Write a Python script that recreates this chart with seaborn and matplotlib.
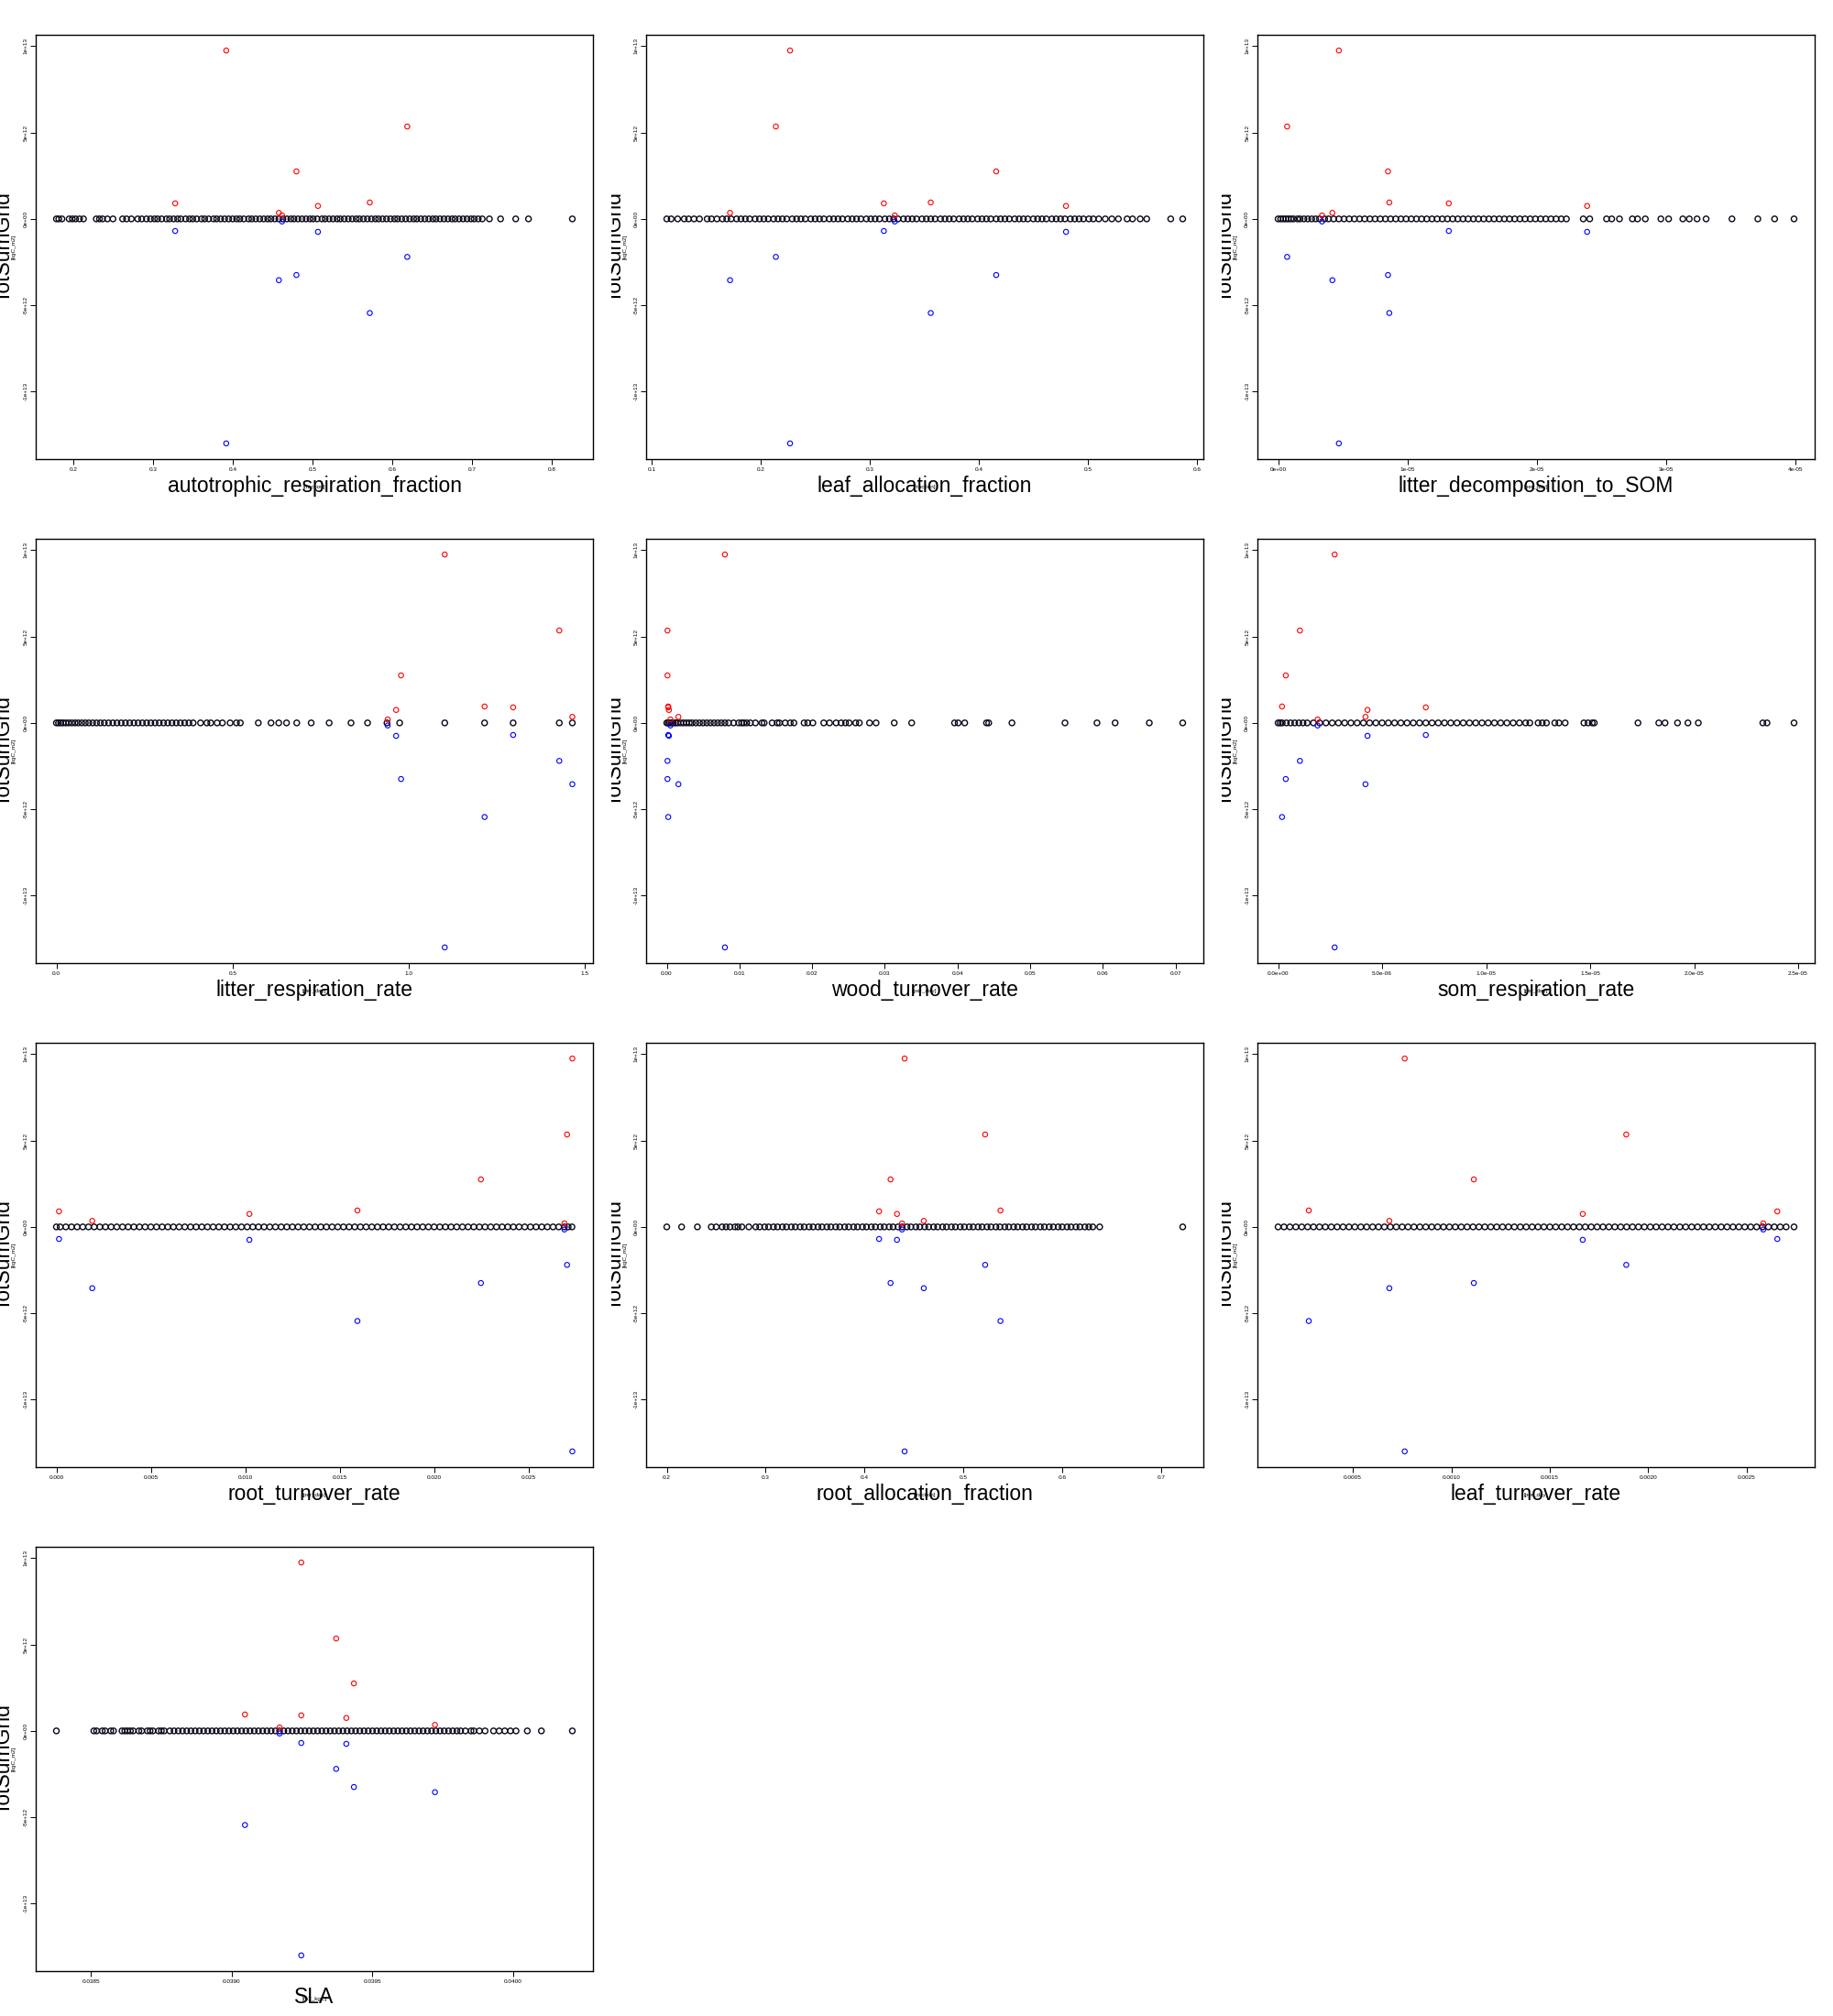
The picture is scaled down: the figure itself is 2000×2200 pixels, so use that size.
import matplotlib
matplotlib.use("Agg")
import matplotlib.pyplot as plt
import seaborn as sns
from matplotlib.transforms import Bbox, TransformedBbox
from matplotlib.ticker import FixedLocator, FixedFormatter

sns.set_theme(style="white")
plt.rcParams['font.family'] = ['Liberation Sans', 'DejaVu Sans']

# ---------------- data ----------------
parameter_names = ["autotrophic_respiration_fraction", "leaf_allocation_fraction",
                   "litter_decomposition_to_SOM", "litter_respiration_rate",
                   "wood_turnover_rate", "som_respiration_rate",
                   "root_turnover_rate", "root_allocation_fraction",
                   "leaf_turnover_rate", "SLA"]
parameter_units = ["[fraction]", "[fraction]", "[per_day]", "[per_day]", "[per_day]",
                   "[per_day]", "[per_day]", "[fraction]", "[per_day]", "[m2_kgC]"]
y_name = "TotSumGrid"
y_unit = "[kgC_m2]"

# outlier runs (positive = red, negative = blue), same runs in each panel
red_values = [9.75e12, 5.35e12, 2.75e12, 0.90e12, 0.95e12, 0.35e12, 0.75e12, 0.20e12]
blue_values = [-13.0e12, -2.2e12, -3.25e12, -0.7e12, -5.45e12, -3.55e12, -0.75e12, -0.15e12]

y_ticks = [-1e13, -5e12, 0, 5e12, 1e13]
y_tick_labels = ["-1e+13", "-5e+12", "0e+00", "5e+12", "1e+13"]

# panel 1: autotrophic_respiration_fraction
ar_frac_x = [0.179, 0.182, 0.186, 0.195, 0.199, 0.203, 0.208, 0.213, 0.229, 0.233, 0.237, 0.243,
             0.250, 0.262, 0.267, 0.273, 0.281, 0.286,
             0.292, 0.297, 0.302, 0.306, 0.311, 0.317, 0.321, 0.326, 0.331, 0.335, 0.341, 0.346,
             0.350, 0.355, 0.361, 0.365, 0.370, 0.376, 0.380, 0.385, 0.390, 0.395, 0.400, 0.405,
             0.409, 0.414, 0.420, 0.424, 0.429, 0.434, 0.439, 0.444, 0.448, 0.453, 0.458, 0.463,
             0.468, 0.473, 0.477, 0.482, 0.487, 0.492, 0.497, 0.501, 0.506, 0.512, 0.516, 0.521,
             0.526, 0.531, 0.535, 0.540, 0.545, 0.550, 0.555, 0.559, 0.564, 0.569, 0.574, 0.579,
             0.583, 0.588, 0.593, 0.598, 0.603, 0.607, 0.612, 0.617, 0.622, 0.627, 0.631, 0.636,
             0.641, 0.646, 0.651, 0.655, 0.660, 0.665, 0.670, 0.675, 0.679, 0.684, 0.689, 0.694,
             0.699, 0.703, 0.708, 0.713, 0.722, 0.736, 0.755, 0.771, 0.826]
ar_frac_special = [0.392, 0.619, 0.480, 0.328, 0.572, 0.458, 0.507, 0.462]
ar_frac_ticks = [0.2, 0.3, 0.4, 0.5, 0.6, 0.7, 0.8]
ar_frac_labels = ["0.2", "0.3", "0.4", "0.5", "0.6", "0.7", "0.8"]

# panel 2: leaf_allocation_fraction
leaf_alloc_x = [0.114, 0.118, 0.124, 0.130, 0.134, 0.139, 0.144, 0.151, 0.155, 0.160,
                0.165, 0.169, 0.173, 0.178, 0.182, 0.186, 0.190, 0.195, 0.199, 0.203, 0.207,
                0.212, 0.216, 0.220, 0.224, 0.229, 0.233, 0.237, 0.241, 0.246, 0.250, 0.254,
                0.258, 0.263, 0.267, 0.271, 0.275, 0.280, 0.284, 0.288, 0.292, 0.297, 0.301,
                0.305, 0.309, 0.314, 0.318, 0.322, 0.326, 0.331, 0.335, 0.339, 0.343, 0.348,
                0.352, 0.356, 0.360, 0.365, 0.369, 0.373, 0.377, 0.382, 0.386, 0.390, 0.394,
                0.399, 0.403, 0.407, 0.411, 0.416, 0.420, 0.424, 0.428, 0.433, 0.437, 0.441,
                0.445, 0.450, 0.454, 0.458, 0.462, 0.467, 0.471, 0.475, 0.479, 0.484, 0.488,
                0.492, 0.496, 0.501, 0.505,
                0.510, 0.516, 0.522, 0.528, 0.536, 0.541, 0.548, 0.554, 0.576, 0.587]
leaf_alloc_special = [0.227, 0.214, 0.416, 0.313, 0.356, 0.172, 0.480, 0.323]
leaf_alloc_ticks = [0.1, 0.2, 0.3, 0.4, 0.5, 0.6]
leaf_alloc_labels = ["0.1", "0.2", "0.3", "0.4", "0.5", "0.6"]

# panel 3: litter_decomposition_to_SOM
litter_decomp_x = [0.00e-5, 0.02e-5, 0.04e-5, 0.06e-5, 0.08e-5, 0.10e-5, 0.12e-5, 0.15e-5, 0.17e-5,
                   0.20e-5, 0.23e-5, 0.26e-5, 0.29e-5, 0.32e-5, 0.36e-5, 0.39e-5, 0.43e-5, 0.47e-5,
                   0.51e-5, 0.55e-5, 0.59e-5, 0.63e-5, 0.67e-5, 0.71e-5, 0.75e-5, 0.79e-5, 0.83e-5,
                   0.87e-5, 0.91e-5, 0.95e-5, 0.99e-5, 1.03e-5, 1.07e-5, 1.11e-5, 1.15e-5, 1.19e-5,
                   1.23e-5, 1.27e-5, 1.31e-5, 1.35e-5, 1.39e-5, 1.43e-5, 1.47e-5, 1.51e-5, 1.55e-5,
                   1.59e-5, 1.63e-5, 1.67e-5, 1.71e-5, 1.75e-5, 1.79e-5, 1.83e-5, 1.87e-5, 1.91e-5,
                   1.95e-5, 1.99e-5, 2.03e-5, 2.07e-5, 2.11e-5, 2.15e-5, 2.19e-5, 2.23e-5,
                   2.36e-5, 2.41e-5, 2.54e-5, 2.58e-5, 2.64e-5, 2.74e-5, 2.78e-5, 2.84e-5, 2.96e-5,
                   3.02e-5, 3.13e-5, 3.18e-5, 3.24e-5, 3.31e-5, 3.51e-5, 3.71e-5, 3.84e-5, 3.99e-5]
litter_decomp_special = [4.7e-6, 0.7e-6, 8.5e-6, 13.2e-6, 8.6e-6, 4.2e-6, 23.9e-6, 3.4e-6]
litter_decomp_ticks = [0, 1e-5, 2e-5, 3e-5, 4e-5]
litter_decomp_labels = ["0e+00", "1e-05", "2e-05", "3e-05", "4e-05"]

# panel 4: litter_respiration_rate
litter_resp_x = [0.000, 0.006, 0.012, 0.019, 0.027, 0.035, 0.044, 0.053, 0.062, 0.072, 0.082,
                 0.092, 0.103, 0.114, 0.125, 0.136, 0.148, 0.160, 0.172, 0.184, 0.196, 0.208,
                 0.220, 0.232, 0.244, 0.256, 0.268, 0.280, 0.292, 0.304, 0.316, 0.328, 0.340,
                 0.352, 0.364, 0.376, 0.388,
                 0.409, 0.427, 0.438, 0.456, 0.471, 0.493, 0.511, 0.522, 0.573, 0.609, 0.631,
                 0.653, 0.682, 0.723, 0.774, 0.836, 0.883, 0.938, 0.974, 1.102, 1.215, 1.296,
                 1.427, 1.464]
litter_resp_special = [1.102, 1.427, 0.978, 1.296, 1.215, 1.464, 0.964, 0.940]
litter_resp_ticks = [0.0, 0.5, 1.0, 1.5]
litter_resp_labels = ["0.0", "0.5", "1.0", "1.5"]

# panel 5: wood_turnover_rate
wood_turn_x = [0.0000, 0.0002, 0.0004, 0.0006, 0.0009, 0.0012, 0.0015, 0.0019, 0.0023, 0.0027,
               0.0031, 0.0035, 0.0040, 0.0045, 0.0050, 0.0055, 0.0060, 0.0065, 0.0070, 0.0075,
               0.0080, 0.0085,
               0.0092, 0.0099, 0.0103, 0.0106, 0.0110, 0.0115, 0.0122, 0.0131, 0.0134, 0.0145,
               0.0152, 0.0155, 0.0163, 0.0170, 0.0175, 0.0189, 0.0194, 0.0201, 0.0216, 0.0224,
               0.0233, 0.0240, 0.0246, 0.0251, 0.0260, 0.0265, 0.0279, 0.0288, 0.0313, 0.0337,
               0.0396, 0.0401, 0.0410, 0.0440, 0.0443, 0.0475, 0.0548, 0.0592, 0.0617, 0.0664,
               0.0710]
wood_turn_special = [0.0080, 0.0001, 0.0001, 0.0002, 0.0002, 0.0016, 0.0003, 0.0005]
wood_turn_ticks = [0.00, 0.01, 0.02, 0.03, 0.04, 0.05, 0.06, 0.07]
wood_turn_labels = ["0.00", "0.01", "0.02", "0.03", "0.04", "0.05", "0.06", "0.07"]

# panel 6: som_respiration_rate
som_resp_x = [0.00e-5, 0.01e-5, 0.02e-5, 0.04e-5, 0.06e-5, 0.08e-5, 0.10e-5, 0.12e-5, 0.14e-5,
              0.17e-5, 0.20e-5, 0.23e-5, 0.26e-5, 0.29e-5, 0.32e-5, 0.35e-5, 0.38e-5, 0.41e-5,
              0.44e-5, 0.47e-5, 0.50e-5, 0.53e-5, 0.56e-5, 0.59e-5, 0.62e-5, 0.65e-5, 0.68e-5,
              0.71e-5, 0.74e-5, 0.77e-5, 0.80e-5, 0.83e-5, 0.86e-5, 0.89e-5, 0.92e-5, 0.95e-5,
              0.98e-5, 1.01e-5, 1.04e-5, 1.07e-5, 1.10e-5, 1.13e-5, 1.16e-5, 1.19e-5, 1.21e-5,
              1.25e-5, 1.27e-5, 1.29e-5, 1.33e-5, 1.35e-5, 1.38e-5, 1.47e-5, 1.49e-5, 1.51e-5,
              1.52e-5, 1.73e-5, 1.83e-5, 1.86e-5, 1.92e-5, 1.97e-5, 2.02e-5, 2.33e-5, 2.35e-5,
              2.48e-5]
som_resp_special = [2.72e-6, 1.05e-6, 0.37e-6, 7.1e-6, 0.19e-6, 4.2e-6, 4.3e-6, 1.9e-6]
som_resp_ticks = [0, 5e-6, 1e-5, 1.5e-5, 2e-5, 2.5e-5]
som_resp_labels = ["0.0e+00", "5.0e-06", "1.0e-05", "1.5e-05", "2.0e-05", "2.5e-05"]

# panel 7: root_turnover_rate
root_turn_x = [0.0000, 0.0002, 0.0005, 0.0008, 0.0011, 0.0014, 0.0017, 0.0020, 0.0023, 0.0026,
               0.0029, 0.0032, 0.0035, 0.0038, 0.0041, 0.0044, 0.0047, 0.0050, 0.0053, 0.0056,
               0.0059, 0.0062, 0.0065, 0.0068, 0.0071, 0.0074, 0.0077, 0.0080, 0.0083, 0.0086,
               0.0089, 0.0092, 0.0095, 0.0098, 0.0101, 0.0104, 0.0107, 0.0110, 0.0113, 0.0116,
               0.0119, 0.0122, 0.0125, 0.0128, 0.0131, 0.0134, 0.0137, 0.0140, 0.0143, 0.0146,
               0.0149, 0.0152, 0.0155, 0.0158, 0.0161, 0.0164, 0.0167, 0.0170, 0.0173, 0.0176,
               0.0179, 0.0182, 0.0185, 0.0188, 0.0191, 0.0194, 0.0197, 0.0200, 0.0203, 0.0206,
               0.0209, 0.0212, 0.0215, 0.0218, 0.0221, 0.0224, 0.0227, 0.0230, 0.0233, 0.0236,
               0.0239, 0.0242, 0.0245, 0.0248, 0.0251, 0.0254, 0.0257, 0.0260, 0.0263, 0.0266,
               0.0269, 0.0271, 0.0273]
root_turn_special = [0.02732, 0.02704, 0.02248, 0.00014, 0.01594, 0.0019, 0.01022, 0.0269]
root_turn_ticks = [0.000, 0.005, 0.010, 0.015, 0.020, 0.025]
root_turn_labels = ["0.000", "0.005", "0.010", "0.015", "0.020", "0.025"]

# panel 8: root_allocation_fraction
root_alloc_x = [0.200, 0.215, 0.231, 0.245, 0.250, 0.256, 0.260, 0.264, 0.269, 0.272, 0.276, 0.283,
                0.290, 0.294, 0.299, 0.303, 0.308, 0.312, 0.317, 0.321, 0.326, 0.330, 0.335,
                0.339, 0.344, 0.348, 0.353, 0.357, 0.362, 0.366, 0.371, 0.375, 0.380, 0.384,
                0.389, 0.393, 0.398, 0.402, 0.407, 0.411, 0.416, 0.420, 0.425, 0.429, 0.434,
                0.438, 0.443, 0.447, 0.452, 0.456, 0.461, 0.465, 0.470, 0.474, 0.479, 0.483,
                0.488, 0.492, 0.497, 0.501, 0.506, 0.510, 0.515, 0.519, 0.524, 0.528, 0.533,
                0.537, 0.542, 0.546, 0.551, 0.555, 0.560, 0.564, 0.569, 0.573, 0.578, 0.582,
                0.587, 0.591, 0.596, 0.600, 0.605, 0.609, 0.614, 0.618, 0.623, 0.627,
                0.631, 0.638, 0.722]
root_alloc_special = [0.4406, 0.5221, 0.4264, 0.4148, 0.5376, 0.4600, 0.4329, 0.4380]
root_alloc_ticks = [0.2, 0.3, 0.4, 0.5, 0.6, 0.7]
root_alloc_labels = ["0.2", "0.3", "0.4", "0.5", "0.6", "0.7"]

# panel 9: leaf_turnover_rate
leaf_turn_x = [0.00012, 0.00015, 0.00018, 0.00021, 0.00024, 0.00027, 0.00030, 0.00033, 0.00036,
               0.00039, 0.00042, 0.00045, 0.00048, 0.00051, 0.00054, 0.00057, 0.00060, 0.00063,
               0.00066, 0.00069, 0.00072, 0.00075, 0.00078, 0.00081, 0.00084, 0.00087, 0.00090,
               0.00093, 0.00096, 0.00099, 0.00102, 0.00105, 0.00108, 0.00111, 0.00114, 0.00117,
               0.00120, 0.00123, 0.00126, 0.00129, 0.00132, 0.00135, 0.00138, 0.00141, 0.00144,
               0.00147, 0.00150, 0.00153, 0.00156, 0.00159, 0.00162, 0.00165, 0.00168, 0.00171,
               0.00174, 0.00177, 0.00180, 0.00183, 0.00186, 0.00189, 0.00192, 0.00195, 0.00198,
               0.00201, 0.00204, 0.00207, 0.00210, 0.00213, 0.00216, 0.00219, 0.00222, 0.00225,
               0.00228, 0.00231, 0.00234, 0.00237, 0.00240, 0.00243, 0.00246, 0.00249, 0.00252,
               0.00255, 0.00258, 0.00261, 0.00264, 0.00267, 0.00270, 0.00274]
leaf_turn_special = [0.000763, 0.001888, 0.001114, 0.002655, 0.000276, 0.000685, 0.001667, 0.002584]
leaf_turn_ticks = [0.0005, 0.0010, 0.0015, 0.0020, 0.0025]
leaf_turn_labels = ["0.0005", "0.0010", "0.0015", "0.0020", "0.0025"]

# panel 10: SLA
sla_x = [0.038377, 0.03851, 0.03852, 0.03854, 0.03855, 0.03857, 0.03858, 0.03861, 0.03862,
         0.03863, 0.03864, 0.03865, 0.03867, 0.03868, 0.03870, 0.03871, 0.03872, 0.03874,
         0.03875, 0.03876,
         0.038780, 0.038795, 0.038810, 0.038825, 0.038840, 0.038855, 0.038870, 0.038885,
         0.038900, 0.038915, 0.038930, 0.038945, 0.038960, 0.038975, 0.038990, 0.039005,
         0.039020, 0.039035, 0.039050, 0.039065, 0.039080, 0.039095, 0.039110, 0.039125,
         0.039140, 0.039155, 0.039170, 0.039185, 0.039200, 0.039215, 0.039230, 0.039245,
         0.039260, 0.039275, 0.039290, 0.039305, 0.039320, 0.039335, 0.039350, 0.039365,
         0.039380, 0.039395, 0.039410, 0.039425, 0.039440, 0.039455, 0.039470, 0.039485,
         0.039500, 0.039515, 0.039530, 0.039545, 0.039560, 0.039575, 0.039590, 0.039605,
         0.039620, 0.039635, 0.039650, 0.039665, 0.039680, 0.039695, 0.039710, 0.039725,
         0.039740, 0.039755, 0.039770, 0.039785, 0.039800, 0.039813,
         0.03983, 0.03985, 0.03986, 0.03988, 0.03990, 0.03993, 0.03995, 0.03997, 0.03999,
         0.04001, 0.04005, 0.04010, 0.04021]
sla_special = [0.039247, 0.039371, 0.039434, 0.039247, 0.039047, 0.039722, 0.039407, 0.03917]
sla_ticks = [0.0385, 0.0390, 0.0395, 0.0400]
sla_labels = ["0.0385", "0.0390", "0.0395", "0.0400"]

panel_black = [ar_frac_x, leaf_alloc_x, litter_decomp_x, litter_resp_x, wood_turn_x,
               som_resp_x, root_turn_x, root_alloc_x, leaf_turn_x, sla_x]
panel_special = [ar_frac_special, leaf_alloc_special, litter_decomp_special, litter_resp_special,
                 wood_turn_special, som_resp_special, root_turn_special, root_alloc_special,
                 leaf_turn_special, sla_special]
panel_ticks = [ar_frac_ticks, leaf_alloc_ticks, litter_decomp_ticks, litter_resp_ticks,
               wood_turn_ticks, som_resp_ticks, root_turn_ticks, root_alloc_ticks,
               leaf_turn_ticks, sla_ticks]
panel_labels = [ar_frac_labels, leaf_alloc_labels, litter_decomp_labels, litter_resp_labels,
                wood_turn_labels, som_resp_labels, root_turn_labels, root_alloc_labels,
                leaf_turn_labels, sla_labels]

# ---------------- layout (pixels) ----------------
FW, FH = 2000, 2200
fig = plt.figure(figsize=(FW / 100, FH / 100), dpi=100)
fig.patch.set_facecolor("white")

col_left = [39, 705, 1372]
row_top = [38, 588, 1138, 1688]
AX_W, AX_H = 608, 463
REG_W, REG_H = FW / 3, FH / 4


def r_range(vals):
    lo, hi = min(vals), max(vals)
    pad = (hi - lo) * 0.04
    return lo - pad, hi + pad


y_all = red_values + blue_values + [0.0]
ylim = r_range(y_all)

for i, name in enumerate(parameter_names):
    r, c = divmod(i, 3)
    l, t = col_left[c], row_top[r]
    ax = fig.add_axes([l / FW, 1 - (t + AX_H) / FH, AX_W / FW, AX_H / FH])
    ax.set_facecolor("white")

    bx = panel_black[i]
    sns.scatterplot(x=bx, y=[0.0] * len(bx), ax=ax, s=19, marker="o",
                    facecolor="none", edgecolor="#0a0618", linewidth=1.0, zorder=2)
    sx = panel_special[i]
    sns.scatterplot(x=sx, y=red_values, ax=ax, s=15, marker="o",
                    facecolor="none", edgecolor="#ff0000", linewidth=0.8, zorder=3)
    sns.scatterplot(x=sx, y=blue_values, ax=ax, s=15, marker="o",
                    facecolor="none", edgecolor="#0000ff", linewidth=0.8, zorder=3)

    ax.set_xlim(*r_range(bx + sx))
    ax.set_ylim(*ylim)
    ax.xaxis.set_major_locator(FixedLocator(panel_ticks[i]))
    ax.xaxis.set_major_formatter(FixedFormatter(panel_labels[i]))
    ax.yaxis.set_major_locator(FixedLocator(y_ticks))
    ax.yaxis.set_major_formatter(FixedFormatter(y_tick_labels))
    ax.tick_params(axis="both", which="major", direction="out", length=4.3, width=0.7,
                   color="black", labelsize=4.6, labelcolor="black",
                   bottom=True, left=True, top=False, right=False)
    ax.tick_params(axis="x", pad=2.2)
    ax.tick_params(axis="y", pad=2.0)
    for lab in ax.get_yticklabels():
        lab.set_rotation(90)
        lab.set_va("center")
    for sp in ax.spines.values():
        sp.set_visible(True)
        sp.set_color("black")
        sp.set_linewidth(1.0)
    ax.set_xlabel("")
    ax.set_ylabel("")
    ax.grid(False)

    # x label (large) and unit text (small, overlapping)
    cx = (l + AX_W / 2) / FW
    yb = 1 - (t + AX_H + 29) / FH
    fig.text(cx, yb, name, ha="center", va="center", fontsize=16.5, color="black")
    fig.text(cx, 1 - (t + AX_H + 31) / FH, parameter_units[i], ha="center", va="center",
             fontsize=4.6, color="black")

    # y label, clipped to this panel's figure region as in the original
    reg = Bbox.from_extents(c * REG_W / FW, 1 - (r + 1) * REG_H / FH,
                            (c + 1) * REG_W / FW, 1 - r * REG_H / FH)
    cy = 1 - (t + AX_H / 2) / FH
    tl = fig.text((c * REG_W + 4) / FW, cy, y_name, rotation=90, ha="center", va="center",
                  fontsize=16.5, color="black")
    tl.set_clip_box(TransformedBbox(reg, fig.transFigure))
    tl.set_clip_on(True)
    tu = fig.text((c * REG_W + 15) / FW, cy, y_unit, rotation=90, ha="center", va="center",
                  fontsize=4.6, color="black")
    tu.set_clip_box(TransformedBbox(reg, fig.transFigure))
    tu.set_clip_on(True)

fig.savefig("out.png", dpi=100, facecolor="white")
